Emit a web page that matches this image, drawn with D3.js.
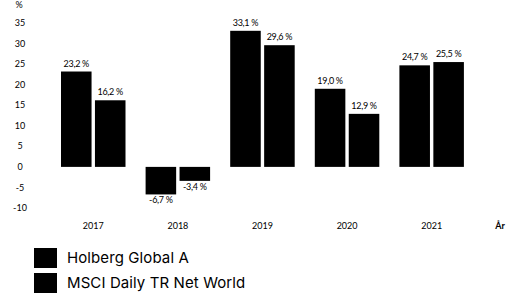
<!DOCTYPE html>
<html>
<head>
<meta charset="utf-8">
<script src="https://cdn.jsdelivr.net/npm/d3@7"></script>
<style>
  body { margin: 0; background: #fff; }
  svg { display: block; font-family: Lato, "Noto Sans", sans-serif; }
</style>
</head>
<body>
<div id="chart"></div>
<script>
const years = ["2017", "2018", "2019", "2020", "2021"];
const seriesNames = ["Holberg Global A", "MSCI Daily TR Net World"];
const holberg = [23.2, -6.7, 33.1, 19.0, 24.7];
const msci = [16.2, -3.4, 29.6, 12.9, 25.5];
const yTicks = [-10, -5, 0, 5, 10, 15, 20, 25, 30, 35];

const w = 512, h = 294;

const svg = d3.select("#chart")
    .append("svg")
    .attr("width", w)
    .attr("height", h);

// scales
const y = d3.scaleLinear().domain([-10, 35]).range([208, 23]);
const x0 = d3.scaleBand().domain(years).range([51, 474]);
const x1 = d3.scaleBand().domain(seriesNames).range([10, 74.5]).paddingInner(0.1);

// y axis labels
svg.selectAll(".ytick")
    .data(yTicks)
    .enter()
    .append("text")
    .attr("x", 20)
    .attr("y", d => y(d))
    .attr("dy", "0.35em")
    .attr("text-anchor", "middle")
    .style("font-size", "9px")
    .style("fill", "#000")
    .text(d => d);

svg.append("text")
    .attr("x", 19)
    .attr("y", 8)
    .attr("text-anchor", "middle")
    .style("font-size", "9px")
    .text("%");

// x labels
svg.selectAll(".xtick")
    .data(years)
    .enter()
    .append("text")
    .attr("x", d => x0(d) + x0.bandwidth() / 2)
    .attr("y", 226)
    .attr("dy", "0.35em")
    .attr("text-anchor", "middle")
    .style("font-size", "9px")
    .text(d => d);

svg.append("text")
    .attr("x", 500)
    .attr("y", 226)
    .attr("dy", "0.35em")
    .attr("text-anchor", "middle")
    .style("font-size", "9px")
    .style("font-weight", "bold")
    .text("År");

// bars
const rows = years.map((yr, i) => ({ year: yr, values: [holberg[i], msci[i]] }));

const groups = svg.selectAll(".grp")
    .data(rows)
    .enter()
    .append("g")
    .attr("transform", d => `translate(${x0(d.year)},0)`);

const bars = groups.selectAll("g")
    .data(d => d.values.map((v, j) => ({ key: seriesNames[j], value: v })))
    .enter();

bars.append("rect")
    .attr("x", d => x1(d.key))
    .attr("width", x1.bandwidth())
    .attr("y", d => y(Math.max(0, d.value)))
    .attr("height", d => Math.abs(y(d.value) - y(0)))
    .style("fill", "#000");

bars.append("text")
    .attr("x", d => x1(d.key) + x1.bandwidth() / 2)
    .attr("y", d => d.value >= 0 ? y(d.value) - 5 : y(d.value) + 9)
    .attr("text-anchor", "middle")
    .style("font-size", "9px")
    .style("letter-spacing", "-0.3px")
    .text(d => d3.format(".1f")(d.value).replace(".", ",").replace("−", "-") + " %");

// legend
const legend = svg.selectAll(".leg")
    .data(seriesNames)
    .enter()
    .append("g")
    .attr("transform", (d, i) => `translate(34,${248 + i * 25})`);

legend.append("rect")
    .attr("width", 23)
    .attr("height", 20)
    .style("fill", "#000");

legend.append("text")
    .attr("x", 33)
    .attr("y", 10)
    .attr("dy", "0.35em")
    .style("font-family", "Inter, Lato, sans-serif")
    .style("font-size", "15px")
    .style("letter-spacing", "0.1px")
    .text(d => d);
</script>
</body>
</html>
